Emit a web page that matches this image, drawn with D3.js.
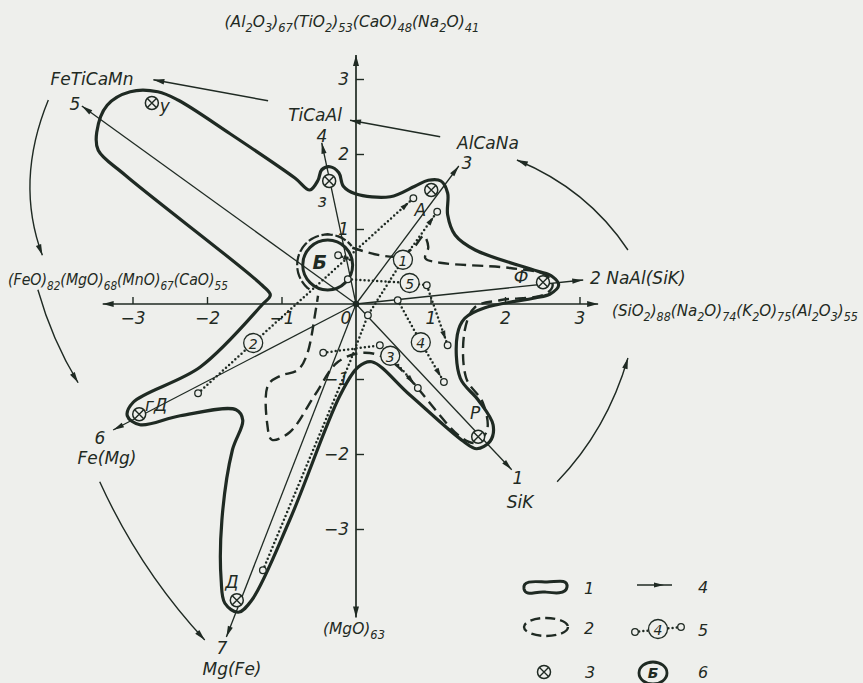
<!DOCTYPE html>
<html>
<head>
<meta charset="utf-8">
<title>Диаграмма ассоциаций элементов</title>
<script src="https://cdn.jsdelivr.net/npm/d3@7/dist/d3.min.js"></script>
<style>
  html, body { margin: 0; padding: 0; background: #eeefec; }
  svg { display: block; }
  text { font-family: "DejaVu Sans", "Liberation Sans", sans-serif; font-style: italic; fill: #1f2a23; }
</style>
</head>
<body>
<svg id="chart" width="863" height="683"></svg>
<script>
// ---- data (factor-score units) ----
const axisTicks = [-3, -2, -1, 1, 2, 3];

// field of compositions, solid contour (1)
const fieldOutline = [
  [-3.48,2.29],[-3.34,2.65],[-3.03,2.83],[-2.66,2.83],[-2.39,2.72],[-1.69,2.27],[-0.82,1.68],
  [-0.62,1.52],[-0.51,1.65],[-0.46,1.79],[-0.35,1.83],[-0.23,1.75],[-0.17,1.57],[-0.01,1.47],
  [0.46,1.43],[0.79,1.57],[0.97,1.65],[1.14,1.64],[1.23,1.48],[1.23,1.19],[1.33,0.92],[1.60,0.72],
  [2.43,0.44],[2.63,0.37],[2.72,0.25],[2.60,0.13],[2.40,0.08],[1.73,-0.05],[1.46,-0.19],
  [1.36,-0.41],[1.40,-0.99],[1.64,-1.28],[1.84,-1.61],[1.80,-1.83],[1.62,-1.93],[1.44,-1.83],
  [0.72,-1.21],[0.21,-0.77],[0.03,-0.84],[-0.21,-1.21],[-0.89,-2.88],[-1.40,-3.95],[-1.58,-4.11],
  [-1.76,-3.99],[-1.81,-3.68],[-1.80,-2.88],[-1.66,-1.95],[-1.52,-1.55],[-1.61,-1.41],[-2.36,-1.49],
  [-2.90,-1.61],[-3.07,-1.49],[-2.99,-1.31],[-2.09,-0.84],[-1.26,-0.01],[-1.15,0.12],[-1.26,0.25],
  [-3.10,1.72],[-3.46,2.05]
];

// inner field, dashed contour (2)
const innerOutline = [
  [-0.05,0.75],[0.32,0.65],[0.59,0.64],[0.78,0.76],[0.91,0.91],[0.97,0.76],[0.93,0.61],[1.13,0.55],
  [2.07,0.48],[2.54,0.39],[2.64,0.25],[2.54,0.13],[1.93,0.05],[1.60,-0.04],[1.46,-0.35],[1.48,-0.99],
  [1.70,-1.31],[1.76,-1.68],[1.61,-1.85],[1.40,-1.77],[0.48,-0.77],[0.12,-0.65],[-0.24,-0.77],
  [-0.55,-1.21],[-0.89,-1.71],[-1.13,-1.81],[-1.19,-1.61],[-1.18,-1.08],[-1.02,-0.96],[-0.78,-0.88],
  [-0.66,-0.68],[-0.54,-0.08],[-0.51,0.11]
];

// circle Б (6) with its dashed halo
const circleCenter = [-0.38, 0.52];
const circleRadius = [0.335, 0.41];

// ends of the seven association vectors (4)
const vectorIds = [1, 2, 3, 4, 5, 6, 7];
const vectorEnds = [[2.09,-2.21],[3.05,0.32],[1.38,1.84],[-0.46,2.15],[-3.68,2.64],[-3.26,-1.68],[-1.74,-4.44]];

// reference samples (3)
const sampleNames = ["у", "з", "А", "Ф", "Р", "Д", "гД"];
const sampleXY = [[-2.74,2.68],[-0.36,1.64],[1.01,1.52],[2.51,0.29],[1.64,-1.77],[-1.60,-3.95],[-2.91,-1.47]];

// evolution trends (5): path, index of the numbered ring, indices of inner open dots
const trendIds = [1, 2, 3, 4, 5];
const trendPaths = [
  [[-1.25,-3.55],[-0.08,-0.77],[0.16,-0.15],[0.63,0.59],[1.09,1.23]],
  [[-2.12,-1.19],[-1.38,-0.52],[0.77,1.41]],
  [[-0.44,-0.65],[0.32,-0.55],[0.46,-0.69],[0.83,-1.12]],
  [[0.56,0.05],[0.87,-0.51],[1.18,-1.04]],
  [[-0.11,0.33],[0.72,0.28],[0.95,0.25],[1.23,-0.55]]
];
const trendRing = [3, 1, 2, 1, 1];
const trendInnerDots = [[2], [], [1], [], [2]];
const innerTrend = [[-0.24,0.65],[-0.08,0.59]];

// succession arrows between associations
const successionArrows = [
  [[-1.18,2.71],[-2.72,2.99]],
  [[1.13,2.23],[-0.08,2.45]],
  [[3.65,0.72],[3.11,1.53],[2.16,1.92]],
  [[2.70,-2.37],[3.37,-1.68],[3.65,-0.72]],
  [[-4.13,2.72],[-4.58,1.63],[-4.21,0.65]],
  [[-4.27,0.19],[-4.08,-0.48],[-3.73,-1.05]],
  [[-3.44,-2.37],[-2.90,-3.55],[-2.03,-4.48]]
];

// ---- drawing ----
const ink = "#1f2a23", paper = "#eeefec";
const svg = d3.select("#chart");
const x = d3.scaleLinear().domain([-3, 3]).range([132.5, 579.5]);
const y = d3.scaleLinear().domain([-3, 3]).range([529, 79]);
const P = d => [x(d[0]), y(d[1])];

function arrowHead(g, tip, from, len = 10, half = 2.6) {
  const dx = tip[0] - from[0], dy = tip[1] - from[1], L = Math.hypot(dx, dy);
  const ux = dx / L, uy = dy / L, bx = tip[0] - ux * len, by = tip[1] - uy * len;
  g.append("path")
    .attr("d", `M${tip[0]},${tip[1]}L${bx - uy * half},${by + ux * half}L${bx + uy * half},${by - ux * half}Z`)
    .attr("fill", ink);
}

function chem(sel, str, size) {
  const parts = str.split(/(_\{[^}]*\})/).filter(s => s);
  let shift = 0;
  parts.forEach(p => {
    const isSub = p.startsWith("_{");
    const target = isSub ? size * 0.32 : 0;
    sel.append("tspan").attr("dy", target - shift)
      .attr("font-size", isSub ? size * 0.74 : size)
      .text(isSub ? p.slice(2, -1) : p);
    shift = target;
  });
  return sel;
}

function label(g, px, py, txt, size = 16, anchor = "middle") {
  return g.append("text").attr("x", px).attr("y", py).attr("font-size", size)
    .attr("text-anchor", anchor).attr("dominant-baseline", "central").text(txt);
}

const gAxes = svg.append("g");
const gField = svg.append("g");
const gMarks = svg.append("g");
const gText = svg.append("g");

// axes with arrows at both ends
const x0 = x(0), y0 = y(0);
[[[-3.4, 0], [3.25, 0]], [[0, 3.32], [0, -4.18]]].forEach(([a, b]) => {
  const pa = P(a), pb = P(b);
  gAxes.append("line").attr("x1", pa[0]).attr("y1", pa[1]).attr("x2", pb[0]).attr("y2", pb[1])
    .attr("stroke", ink).attr("stroke-width", 1.7);
  arrowHead(gAxes, pa, pb, 11, 3);
  arrowHead(gAxes, pb, pa, 11, 3);
});

const fmt = d3.format("d");
const xAxis = d3.axisBottom(x).tickValues(axisTicks).tickFormat(fmt).tickSize(-7).tickPadding(8);
const gx = gAxes.append("g").attr("transform", `translate(0,${y0})`).call(xAxis);
const yAxis = d3.axisLeft(y).tickValues(axisTicks).tickFormat(fmt).tickSize(-8).tickPadding(7);
const gy = gAxes.append("g").attr("transform", `translate(${x0},0)`).call(yAxis);
[gx, gy].forEach(g => {
  g.select(".domain").remove();
  g.selectAll(".tick line").attr("stroke", ink).attr("stroke-width", 1.4);
  g.selectAll(".tick text").attr("font-size", 17).attr("fill", ink)
    .attr("font-family", "DejaVu Sans, sans-serif").attr("font-style", "italic");
});
label(gText, x0 - 10, y0 + 14, "0", 17);

// solid field contour
gField.append("path")
  .attr("d", d3.line().curve(d3.curveCatmullRomClosed.alpha(0.5))(fieldOutline.map(P)))
  .attr("fill", "none").attr("stroke", ink).attr("stroke-width", 3.2).attr("stroke-linejoin", "round");

// dashed inner contour
gField.append("path")
  .attr("d", d3.line().curve(d3.curveCatmullRom.alpha(0.5))(innerOutline.map(P)))
  .attr("fill", "none").attr("stroke", ink).attr("stroke-width", 2.4)
  .attr("stroke-dasharray", "11 6");

// circle Б and halo
const cB = P(circleCenter);
const rB = x(circleRadius[0]) - x(0), rH = x(circleRadius[1]) - x(0);
gField.append("path")
  .attr("transform", `translate(${cB[0]},${cB[1]})`)
  .attr("d", d3.arc()({ innerRadius: rH, outerRadius: rH, startAngle: -2.5, endAngle: 0.9 }))
  .attr("fill", "none").attr("stroke", ink).attr("stroke-width", 2.2).attr("stroke-dasharray", "9 5");
gField.append("circle").attr("cx", cB[0]).attr("cy", cB[1]).attr("r", rB)
  .attr("fill", "none").attr("stroke", ink).attr("stroke-width", 3);
label(gText, cB[0] - 8, cB[1] - 3, "Б", 19).attr("font-weight", "bold");

// association vectors
vectorEnds.forEach(e => {
  const a = P([0, 0]), b = P(e);
  gMarks.append("line").attr("x1", a[0]).attr("y1", a[1]).attr("x2", b[0]).attr("y2", b[1])
    .attr("stroke", ink).attr("stroke-width", 1.3);
  arrowHead(gMarks, b, a, 11, 2.6);
});
gMarks.append("circle").attr("cx", x0).attr("cy", y0).attr("r", 3.2).attr("fill", ink);

// trends
function openDot(g, p, r = 3.3) {
  g.append("circle").attr("cx", p[0]).attr("cy", p[1]).attr("r", r)
    .attr("fill", paper).attr("stroke", ink).attr("stroke-width", 1.3);
}
function dotted(g, pts) {
  g.append("path").attr("d", d3.line()(pts)).attr("fill", "none").attr("stroke", ink)
    .attr("stroke-width", 2.5).attr("stroke-linecap", "round").attr("stroke-dasharray", "0 4.2");
}
trendPaths.forEach((path, i) => {
  const pts = path.map(P);
  dotted(gMarks, pts);
  const n = pts.length, b = pts[n - 1], a = pts[n - 2];
  const L = Math.hypot(b[0] - a[0], b[1] - a[1]);
  const tip = [b[0] - (b[0] - a[0]) / L * 6, b[1] - (b[1] - a[1]) / L * 6];
  arrowHead(gMarks, tip, a, 9, 2.6);
  openDot(gMarks, pts[0]);
  openDot(gMarks, b);
  trendInnerDots[i].forEach(k => openDot(gMarks, pts[k]));
  const ring = pts[trendRing[i]];
  gMarks.append("circle").attr("cx", ring[0]).attr("cy", ring[1]).attr("r", 9.5)
    .attr("fill", paper).attr("stroke", ink).attr("stroke-width", 1.3);
  label(gMarks, ring[0], ring[1] + 1, trendIds[i], 14);
});
{
  const pts = innerTrend.map(P);
  dotted(gMarks, pts);
  arrowHead(gMarks, pts[1], pts[0], 7, 2.4);
  openDot(gMarks, pts[0]);
}

// reference samples ⊗
sampleXY.forEach(s => {
  const p = P(s);
  const g = gMarks.append("g").attr("transform", `translate(${p[0]},${p[1]})`);
  g.append("circle").attr("r", 6.5).attr("fill", paper).attr("stroke", ink).attr("stroke-width", 1.5);
  g.append("path").attr("d", "M-4.5,-4.5L4.5,4.5M-4.5,4.5L4.5,-4.5").attr("stroke", ink).attr("stroke-width", 1.4);
});
const sampleOffsets = [[13, 3], [-7, 20], [-11, 20], [-22, -5], [-3, -24], [-5, -18], [17, -9]];
sampleNames.forEach((nm, i) => {
  const p = P(sampleXY[i]);
  label(gText, p[0] + sampleOffsets[i][0], p[1] + sampleOffsets[i][1], nm, 17);
});

// succession arrows
successionArrows.forEach(a => {
  const pts = a.map(P);
  let d;
  if (pts.length === 2) d = `M${pts[0]}L${pts[1]}`;
  else d = `M${pts[0]}Q${pts[1]} ${pts[2]}`;
  gMarks.append("path").attr("d", d).attr("fill", "none").attr("stroke", ink).attr("stroke-width", 1.4);
  arrowHead(gMarks, pts[pts.length - 1], pts[pts.length - 2], 11, 2.8);
});

// association labels
const assoc = [
  [518, 478, "1"], [520, 502, "SiK"],
  [467, 163, "3"], [488, 143, "AlCaNa"],
  [322, 136, "4"], [315, 115, "TiCaAl"],
  [75, 104, "5"], [92, 79, "FeTiCaMn"],
  [100, 438, "6"], [107, 458, "Fe(Mg)"],
  [222, 648, "7"], [232, 669, "Mg(Fe)"]
];
assoc.forEach(([px, py, t]) => label(gText, px, py, t, 17));
label(gText, 590, 278, "2 NaAl(SiK)", 17, "start");

// oxide axis captions, squeezed horizontally to the wanted width
function caption(px, py, str, len, anchor) {
  const t = gText.append("text").attr("x", 0).attr("y", 0).attr("text-anchor", "start");
  chem(t, str, 16);
  const w = t.node().getComputedTextLength();
  const k = Math.min(1, len / w);
  const left = anchor === "middle" ? px - len / 2 : px;
  t.attr("transform", `translate(${left},${py}) scale(${k},1)`);
  return t;
}
caption(352, 27, "(Al_{2}O_{3})_{67}(TiO_{2})_{53}(CaO)_{48}(Na_{2}O)_{41}", 255, "middle");
caption(8, 285, "(FeO)_{82}(MgO)_{68}(MnO)_{67}(CaO)_{55}", 220, "start");
caption(612, 316, "(SiO_{2})_{88}(Na_{2}O)_{74}(K_{2}O)_{75}(Al_{2}O_{3})_{55}", 246, "start");
caption(354, 634, "(MgO)_{63}", 62, "middle");

// legend
const gl = svg.append("g");
gl.append("path").attr("d", "M524,589C522,579 538,582 547,582C556,582 568,578 567,587C566,595 553,593 545,592C535,591 526,597 524,589Z")
  .attr("fill", "none").attr("stroke", ink).attr("stroke-width", 3);
label(gl, 589, 588, "1", 16);
gl.append("ellipse").attr("cx", 546).attr("cy", 627).attr("rx", 22).attr("ry", 9)
  .attr("fill", "none").attr("stroke", ink).attr("stroke-width", 2.4).attr("stroke-dasharray", "10 5");
label(gl, 589, 628, "2", 16);
{
  const g = gl.append("g").attr("transform", "translate(544,672)");
  g.append("circle").attr("r", 6.5).attr("fill", "none").attr("stroke", ink).attr("stroke-width", 1.5);
  g.append("path").attr("d", "M-4.5,-4.5L4.5,4.5M-4.5,4.5L4.5,-4.5").attr("stroke", ink).attr("stroke-width", 1.4);
}
label(gl, 590, 672, "3", 16);
gl.append("line").attr("x1", 637).attr("y1", 585).attr("x2", 672).attr("y2", 585).attr("stroke", ink).attr("stroke-width", 1.4);
arrowHead(gl, [664, 585], [637, 585], 10, 2.6);
label(gl, 703, 587, "4", 16);
dotted(gl, [[635, 632], [681, 627]]);
openDot(gl, [635, 632]);
openDot(gl, [681, 627]);
gl.append("circle").attr("cx", 658).attr("cy", 629).attr("r", 9.5).attr("fill", paper).attr("stroke", ink).attr("stroke-width", 1.3);
label(gl, 658, 630, "4", 14);
label(gl, 703, 630, "5", 16);
gl.append("ellipse").attr("cx", 653).attr("cy", 673).attr("rx", 14).attr("ry", 11)
  .attr("fill", "none").attr("stroke", ink).attr("stroke-width", 2.8);
label(gl, 653, 673, "Б", 14).attr("font-weight", "bold");
label(gl, 703, 672, "6", 16);
</script>
</body>
</html>
